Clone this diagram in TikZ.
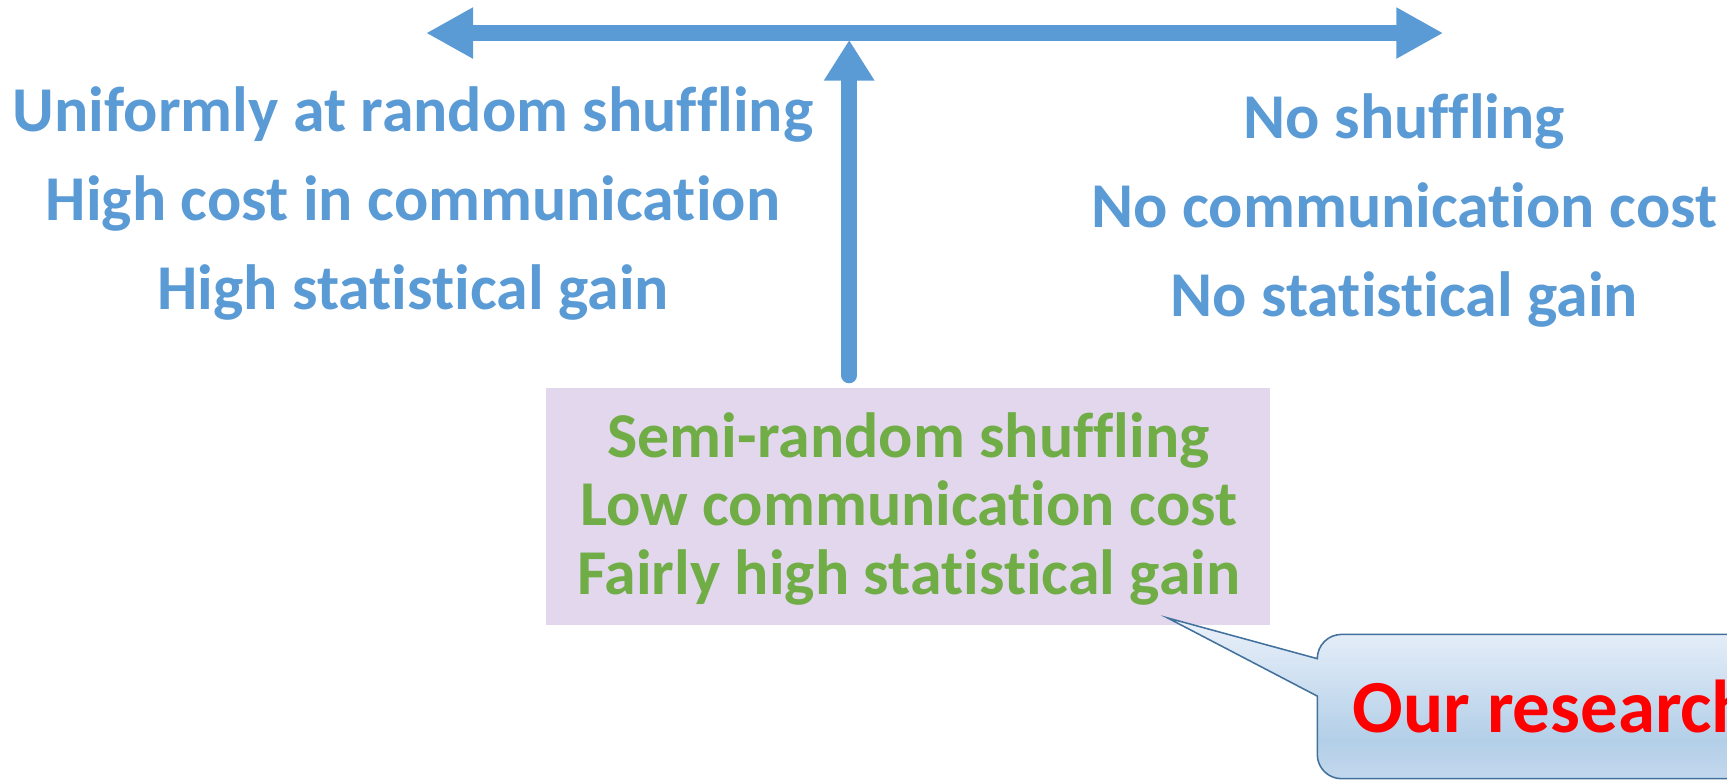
\documentclass[tikz,border=0pt]{standalone}
\usepackage{fontspec}
\setmainfont{Carlito}[Ligatures={NoCommon}]
\usetikzlibrary{arrows.meta}

\definecolor{axisblue}{HTML}{5B9BD5}
\definecolor{boxgreen}{HTML}{70AD47}
\definecolor{boxfill}{HTML}{E2D7EC}
\definecolor{calloutline}{HTML}{41719C}
\definecolor{ctop}{HTML}{EDF3FB}
\definecolor{cmid}{HTML}{E4EDF8}
\definecolor{cdark}{HTML}{B3CFE8}
\definecolor{cbot}{HTML}{C3D8ED}
\definecolor{notered}{HTML}{FF0000}

% light vertical gradient of the speech bubble (path spans 25bp..75bp)
\pgfdeclareverticalshading{calloutshade}{100bp}{color(0bp)=(cbot); color(25bp)=(cbot); color(37bp)=(cdark); color(70bp)=(cmid); color(75bp)=(ctop); color(100bp)=(ctop)}

\begin{document}
\begin{tikzpicture}[x=1pt,y=1pt,
  axisline/.style={draw=axisblue, line width=14pt},
  sidetip/.style={{Triangle[length=42.7pt,width=43.5pt]}-{Triangle[length=42.7pt,width=43.5pt]}},
  risetip/.style={-{Triangle[length=37pt,width=43.5pt]}, line cap=round},
  sidetext/.style={text=axisblue, align=center, inner sep=0pt,
    font=\fontsize{58}{81}\selectfont\bfseries},
  ourbox/.style={fill=boxfill, minimum width=657pt, minimum height=215pt, inner sep=0pt},
  ourtext/.style={text=boxgreen, align=center, inner sep=0pt,
    font=\fontsize{58}{62}\selectfont\bfseries},
  bubble/.style={draw=calloutline, line width=1.4pt, shading=calloutshade},
  bubbletext/.style={text=notered, inner sep=0pt, anchor=base west,
    font=\fontsize{68}{80}\selectfont\bfseries}
]
\useasboundingbox (0,0) rectangle (1568,-709);

% trade-off axis
\coordinate (leftend) at (386.8,-30);
\coordinate (rightend) at (1310.4,-30);
\draw[axisline, sidetip] (leftend) -- (rightend);

% the two extremes
\node[sidetext] (full) at (375,-185)
  {Uniformly at random shuffling\\High cost in communication\\High statistical gain};
\node[sidetext] (none) at (1275,-191)
  {No shuffling\\No communication cost\\No statistical gain};

% the middle ground
\node[ourbox] (semi) at (824.5,-459.5) {};
\node[ourtext] (semitext) at (825,-462)
  {Semi-random shuffling\\Low communication cost\\Fairly high statistical gain};

\coordinate (risebot) at (771,-341);
\coordinate (risetop) at (771,-36.3);
\draw[axisline, risetip] (risebot) -- (risetop);

% speech bubble pointing at the middle ground
\coordinate (tip) at (1060,-561);
\path[bubble] (tip) -- (1196,-598) arc[start angle=180, end angle=90, radius=22]
  -- (1800,-576) -- (1800,-707) -- (1218,-707)
  arc[start angle=270, end angle=180, radius=22] -- (1196,-632) -- cycle;
\node[bubbletext] (ours) at (1228,-665) {Our research};
\end{tikzpicture}
\end{document}
